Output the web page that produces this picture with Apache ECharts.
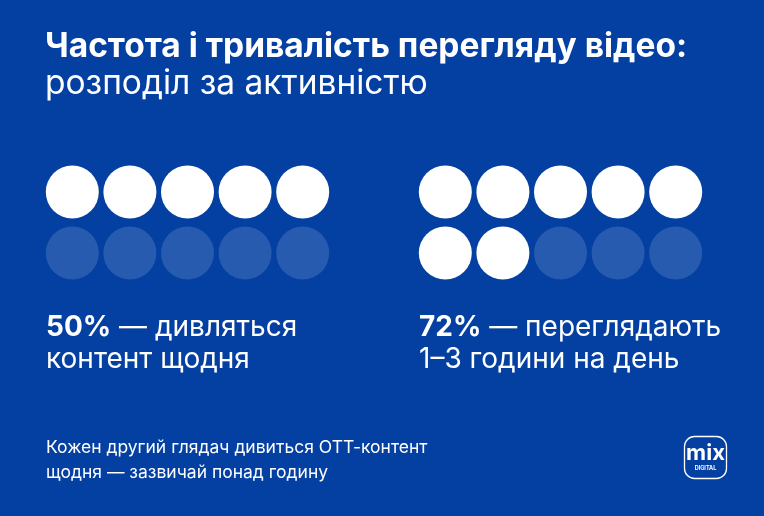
<!DOCTYPE html>
<html>
<head>
<meta charset="utf-8">
<script src="https://cdn.jsdelivr.net/npm/echarts@6/dist/echarts.min.js"></script>
<style>
  html, body { margin: 0; padding: 0; background: #0440a2; }
  #main { width: 764px; height: 516px; }
</style>
</head>
<body>
<div id="main"></div>
<script>
// data
var shares = [50, 72];            // percent
var shareLabels = ['50%', '72%'];
var captions = [
    ['дивляться', 'контент щодня'],
    ['переглядають', '1–3 години на день']
];
var dotsPerRow = 5;
var dotRows = 2;
var titleLines = ['Частота і тривалість перегляду відео:', 'розподіл за активністю'];
var noteLines = ['Кожен другий глядач дивиться ОТТ-контент', 'щодня — зазвичай понад годину'];

var FONT = 'Inter, "Noto Sans", sans-serif';
var chart = echarts.init(document.getElementById('main'), null, {renderer: 'canvas'});

// build dot data per panel: [col, row]
function dots(share) {
    var total = dotsPerRow * dotRows;
    var filled = Math.round(share / 100 * total);
    var on = [], off = [];
    for (var i = 0; i < total; i++) {
        var pt = [i % dotsPerRow, Math.floor(i / dotsPerRow)];
        (i < filled ? on : off).push(pt);
    }
    return {on: on, off: off};
}

var gridLefts = [43.5, 416.5];
var grids = [], xAxes = [], yAxes = [], series = [], graphics = [];
shares.forEach(function (s, k) {
    grids.push({left: gridLefts[k], top: 161.5, width: 288, height: 122});
    xAxes.push({type: 'value', gridIndex: k, min: -0.5, max: dotsPerRow - 0.5, show: false});
    yAxes.push({type: 'value', gridIndex: k, min: -0.5, max: dotRows - 0.5, inverse: true, show: false});
    var d = dots(s);
    series.push({
        type: 'scatter', xAxisIndex: k, yAxisIndex: k, symbolSize: 53,
        itemStyle: {color: '#ffffff', opacity: 0.14}, data: d.off, silent: true
    });
    series.push({
        type: 'scatter', xAxisIndex: k, yAxisIndex: k, symbolSize: 53,
        itemStyle: {color: '#ffffff', opacity: 1}, data: d.on, silent: true
    });
    var x = gridLefts[k] + 2.5;
    graphics.push({
        type: 'text', left: x, top: 312,
        style: {
            text: '{b|' + shareLabels[k] + '} — ' + captions[k][0] + '\n' + captions[k][1],
            fill: '#ffffff', font: '400 28px ' + FONT, lineHeight: 32,
            rich: {b: {fill: '#ffffff', font: '700 28px ' + FONT, lineHeight: 32}}
        }
    });
});

graphics.push({
    type: 'text', left: 45, top: 30,
    style: {text: titleLines[0], fill: '#ffffff', font: '700 33.5px ' + FONT}
});
graphics.push({
    type: 'text', left: 45, top: 67,
    style: {text: titleLines[1], fill: '#ffffff', font: '400 33.5px ' + FONT}
});
graphics.push({
    type: 'text', left: 46, top: 435,
    style: {text: noteLines.join('\n'), fill: '#ffffff', font: '400 17.5px ' + FONT, lineHeight: 25}
});
// logo
graphics.push({
    type: 'group', left: 682, top: 434,
    children: [
        {type: 'rect', shape: {x: 0, y: 0, width: 42, height: 42, r: 10},
         style: {fill: 'none', stroke: '#ffffff', lineWidth: 1.3}},
        {type: 'text', style: {x: 21, y: 17, text: 'mix', fill: '#ffffff',
         font: '700 22px ' + FONT, align: 'center', verticalAlign: 'middle'}},
        {type: 'text', style: {x: 21, y: 32, text: 'DIGITAL', fill: '#ffffff',
         font: '700 5.5px ' + FONT, align: 'center', verticalAlign: 'middle'}}
    ]
});

var option = {
    backgroundColor: '#0440a2',
    animation: false,
    grid: grids,
    xAxis: xAxes,
    yAxis: yAxes,
    series: series,
    graphic: graphics
};
chart.setOption(option);
</script>
</body>
</html>
